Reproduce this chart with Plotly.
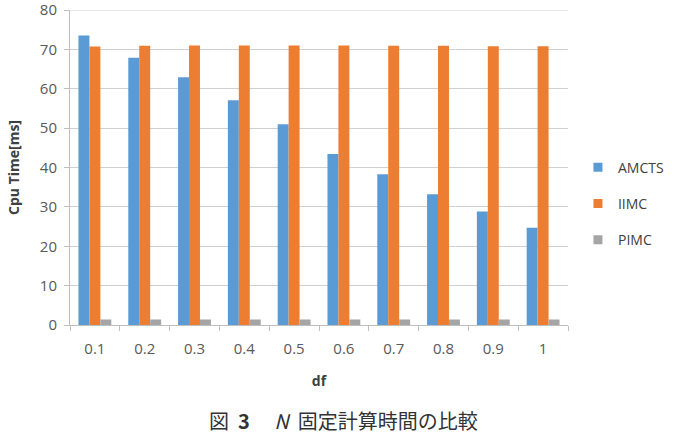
import plotly.graph_objects as go

categories = ["0.1", "0.2", "0.3", "0.4", "0.5", "0.6", "0.7", "0.8", "0.9", "1"]
amcts = [73.5, 67.9, 62.9, 57.1, 51.0, 43.4, 38.3, 33.2, 28.8, 24.7]
iimc = [70.7, 70.9, 71.0, 71.0, 71.0, 71.0, 70.9, 70.9, 70.8, 70.8]
pimc = [1.4, 1.4, 1.4, 1.4, 1.4, 1.4, 1.4, 1.4, 1.4, 1.4]

series = [("AMCTS", amcts, "#5B9BD5"), ("IIMC", iimc, "#ED7D31"), ("PIMC", pimc, "#A5A5A5")]

fig = go.Figure()
for name, vals, col in series:
    fig.add_trace(go.Bar(x=categories, y=vals, name=name, showlegend=False,
                         marker=dict(color=col, line=dict(width=0))))
for name, vals, col in series:
    fig.add_trace(go.Scatter(x=[None], y=[None], mode="markers", name=name, legendgroup=name,
                             marker=dict(symbol="square", size=9, color=col)))

font = "Open Sans, Liberation Sans, sans-serif"
fig.update_layout(
    width=677, height=435,
    margin=dict(l=70, r=109, t=10, b=110, autoexpand=False),
    paper_bgcolor="white", plot_bgcolor="white",
    barmode="group", bargap=0.34, bargroupgap=0,
    font=dict(family=font, size=15, color="#595959"),
    showlegend=True,
    legend=dict(x=1.02, y=0.385, yanchor="middle", xanchor="left",
                font=dict(size=14, color="#404040"), itemwidth=30, tracegroupgap=15),
    xaxis=dict(type="category", showgrid=False, showline=True, linecolor="#BFBFBF", linewidth=1,
               ticks="outside", tickson="boundaries", ticklen=5, tickcolor="#BFBFBF",
               automargin=False, ticklabelstandoff=10,
               title=dict(text="<b>df</b>", font=dict(size=14, color="#404040"), standoff=19)),
    yaxis=dict(range=[0, 80], tickvals=[0, 10, 20, 30, 40, 50, 60, 70, 80],
               ticklabeloverflow="allow", automargin=False, ticklabelstandoff=4,
               showgrid=True, gridcolor="#D0D0D0", gridwidth=1,
               showline=True, linecolor="#BFBFBF", ticks="outside", ticklen=5, tickcolor="#BFBFBF",
               zeroline=False,
               title=dict(text="<b>Cpu Time[ms]</b>", font=dict(size=14, color="#404040"), standoff=16)),
)
fig.add_shape(type="line", xref="paper", yref="y", x0=0, x1=1, y0=80, y1=80,
              line=dict(color="#D0D0D0", width=1), layer="below")
fig.add_annotation(text="図&nbsp;&nbsp;<b>3</b>　&nbsp;<i>N</i>&nbsp;&nbsp;固定計算時間の比較", xref="paper", yref="paper",
                   x=0.55, y=-0.303, yanchor="middle", showarrow=False,
                   font=dict(family="Noto Sans CJK JP", size=20, color="#333333"))
fig.write_html("out.html")
